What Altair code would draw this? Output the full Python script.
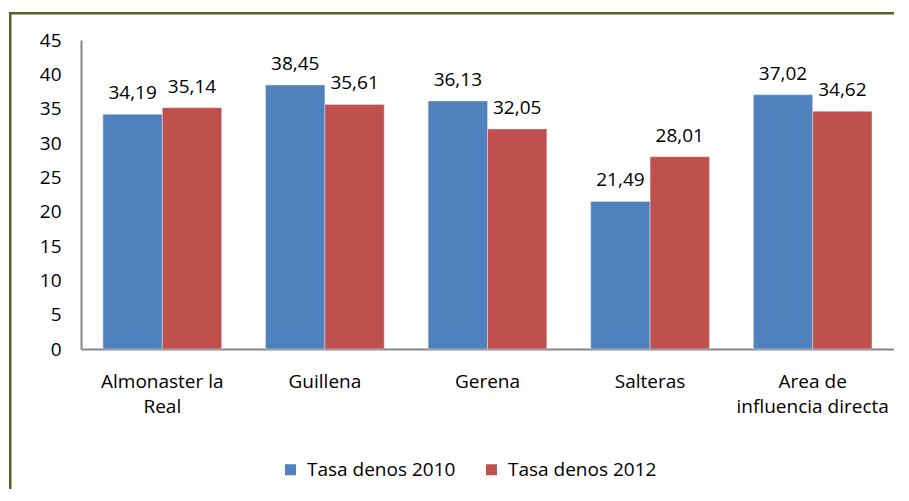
import altair as alt
import pandas as pd

categories = ["Almonaster la Real", "Guillena", "Gerena", "Salteras", "Area de influencia directa"]
series = ["Tasa denos 2010", "Tasa denos 2012"]
values_2010 = [34.19, 38.45, 36.13, 21.49, 37.02]
values_2012 = [35.14, 35.61, 32.05, 28.01, 34.62]
colors = ["#4F81BD", "#C0504D"]
y_ticks = [0, 5, 10, 15, 20, 25, 30, 35, 40, 45]

rows = []
for c, a, b in zip(categories, values_2010, values_2012):
    rows.append({"cat": c, "serie": series[0], "val": a, "lbl": f"{a:.2f}".replace(".", ",")})
    rows.append({"cat": c, "serie": series[1], "val": b, "lbl": f"{b:.2f}".replace(".", ",")})
df = pd.DataFrame(rows)

FONT = "Open Sans"
FS = 19

label_expr = ("datum.label == 'Almonaster la Real' ? ['Almonaster la', 'Real'] : "
              "datum.label == 'Area de influencia directa' ? ['Area de', 'influencia directa'] : datum.label")

x = alt.X("cat:N", sort=categories, title=None,
          scale=alt.Scale(paddingInner=0.27, paddingOuter=0.135),
          axis=alt.Axis(labelAngle=0, labelExpr=label_expr, ticks=False, labelPadding=23,
                        labelFontSize=FS, labelFont=FONT, labelColor="#000000",
                        domainColor="#868686", domainWidth=2, labelLineHeight=25,
                        labelOverlap=False))
y = alt.Y("val:Q", title=None,
          scale=alt.Scale(domain=[0, 45], nice=False),
          axis=alt.Axis(values=y_ticks, tickCount=10, grid=False, ticks=False, labelPadding=20,
                        labelFontSize=FS, labelFont=FONT, labelColor="#000000",
                        domainColor="#868686", domainWidth=2, labelOverlap=False))
color = alt.Color("serie:N", scale=alt.Scale(domain=series, range=colors), title=None,
                  legend=alt.Legend(orient="none", legendX=200, legendY=420, direction="horizontal",
                                    symbolType="square", symbolSize=121, symbolStrokeWidth=0,
                                    labelFontSize=FS, labelFont=FONT, labelColor="#000000",
                                    columnPadding=26, labelOffset=7, labelLimit=300))

base = alt.Chart(df).encode(x=x, xOffset=alt.XOffset("serie:N", sort=series))

bars = base.mark_bar(stroke="#DCE6F2", strokeWidth=0.5).encode(y=y, color=color)
labels = base.mark_text(baseline="alphabetic", dy=-15, fontSize=FS, font=FONT, color="#000000").encode(
    y=y, text="lbl:N")

frame = pd.DataFrame({"k": [0]})
top_band = alt.Chart(frame).mark_rect(color="#4F6228", strokeWidth=0).encode(
    x=alt.value(-72), x2=alt.value(830), y=alt.value(-28), y2=alt.value(-25.5))
left_band = alt.Chart(frame).mark_rect(color="#4F6228", strokeWidth=0).encode(
    x=alt.value(-72), x2=alt.value(-69.5), y=alt.value(-28), y2=alt.value(470))

chart = alt.layer(bars, labels, top_band, left_band).properties(
    width=813, height=309,
    autosize=alt.AutoSizeParams(type="none"),
    padding={"left": 73, "top": 32, "right": 0, "bottom": 140},
).configure_view(stroke=None)

chart.save("out.html", embed_options={"renderer": "svg", "actions": False})
